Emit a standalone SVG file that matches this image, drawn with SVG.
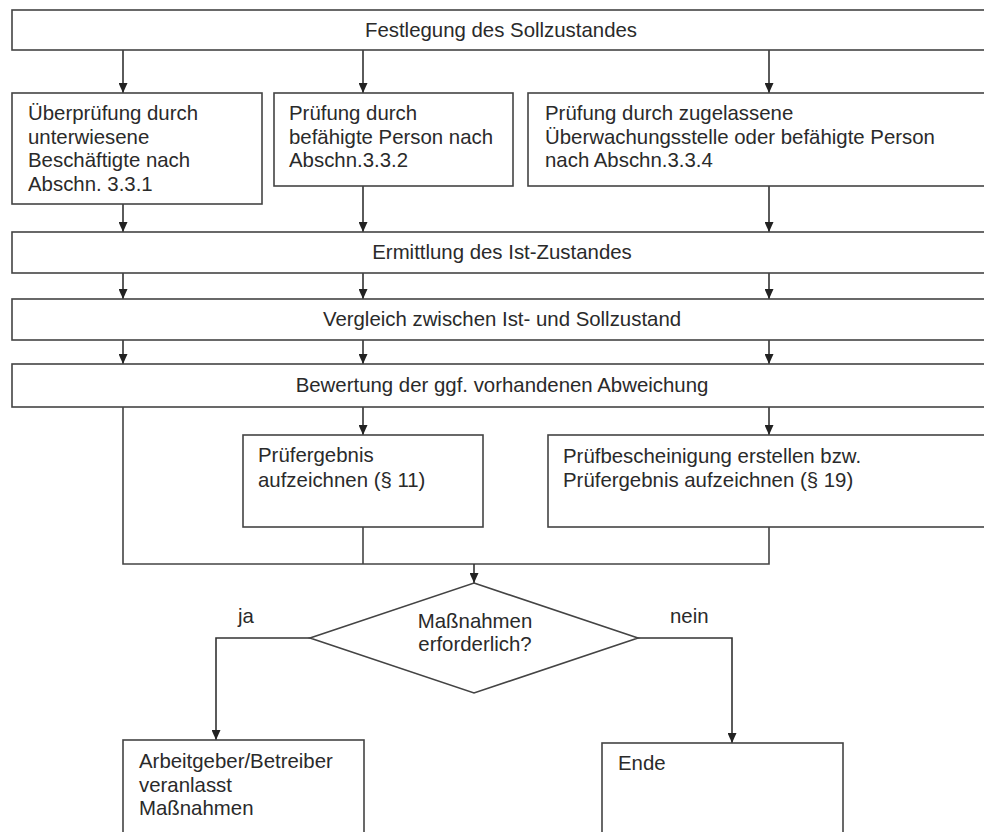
<svg xmlns="http://www.w3.org/2000/svg" width="984" height="832" viewBox="0 0 984 832">
<defs>
<marker id="arr" markerUnits="userSpaceOnUse" markerWidth="10" markerHeight="9" refX="10" refY="4.5" orient="auto">
<path d="M0,0 L10,4.5 L0,9 z" fill="#222"/>
</marker>
<style>
.box{fill:#fff;stroke:#444;stroke-width:1.6}
.t{font-family:"Liberation Sans",Arial,sans-serif;font-size:20.4px;fill:#2a2a2a}
.c{text-anchor:middle}
.ln{fill:none;stroke:#444;stroke-width:1.6}
.ar{fill:none;stroke:#333;stroke-width:1.6;marker-end:url(#arr)}
</style>
</defs>
<rect width="984" height="832" fill="#fff"/>
<g id="connectors">
<line class="ar" x1="123" y1="50" x2="123" y2="93"/>
<line class="ar" x1="363" y1="50" x2="363" y2="93"/>
<line class="ar" x1="769" y1="50" x2="769" y2="93"/>
<line class="ar" x1="123" y1="204" x2="123" y2="232"/>
<line class="ar" x1="363" y1="186" x2="363" y2="232"/>
<line class="ar" x1="769" y1="186" x2="769" y2="232"/>
<line class="ar" x1="123" y1="273" x2="123" y2="299"/>
<line class="ar" x1="363" y1="273" x2="363" y2="299"/>
<line class="ar" x1="769" y1="273" x2="769" y2="299"/>
<line class="ar" x1="123" y1="340" x2="123" y2="364"/>
<line class="ar" x1="363" y1="340" x2="363" y2="364"/>
<line class="ar" x1="769" y1="340" x2="769" y2="364"/>
<line class="ar" x1="363" y1="407" x2="363" y2="435"/>
<line class="ar" x1="769" y1="407" x2="769" y2="435"/>
<polyline class="ln" points="123,407 123,564 769,564 769,527"/>
<line class="ln" x1="363" y1="527" x2="363" y2="564"/>
<line class="ar" x1="474" y1="564" x2="474" y2="583"/>
<polyline class="ar" points="310,638 216,638 216,740"/>
<polyline class="ar" points="638,638 732,638 732,743"/>
<text class="t" x="238" y="623">ja</text>
<text class="t" x="670" y="623">nein</text>
</g>
<g id="n-soll">
<rect class="box" x="12" y="10" width="980" height="40"/>
<text class="t c" x="501" y="37">Festlegung des Sollzustandes</text>
</g>
<g id="n-331">
<rect class="box" x="12" y="93" width="250" height="111"/>
<text class="t" x="28" y="120">Überprüfung durch</text>
<text class="t" x="28" y="144">unterwiesene</text>
<text class="t" x="28" y="167">Beschäftigte nach</text>
<text class="t" x="28" y="191">Abschn. 3.3.1</text>
</g>
<g id="n-332">
<rect class="box" x="274" y="93" width="239" height="93"/>
<text class="t" x="289" y="120">Prüfung durch</text>
<text class="t" x="289" y="144">befähigte Person nach</text>
<text class="t" x="289" y="167">Abschn.3.3.2</text>
</g>
<g id="n-334">
<rect class="box" x="528" y="93" width="464" height="93"/>
<text class="t" x="545" y="120">Prüfung durch zugelassene</text>
<text class="t" x="545" y="144">Überwachungsstelle oder befähigte Person</text>
<text class="t" x="545" y="167">nach Abschn.3.3.4</text>
</g>
<g id="n-ist">
<rect class="box" x="12" y="232" width="980" height="41"/>
<text class="t c" x="502" y="259">Ermittlung des Ist-Zustandes</text>
</g>
<g id="n-vergleich">
<rect class="box" x="12" y="299" width="980" height="41"/>
<text class="t c" x="502" y="326">Vergleich zwischen Ist- und Sollzustand</text>
</g>
<g id="n-bewertung">
<rect class="box" x="12" y="364" width="980" height="43"/>
<text class="t c" x="502" y="392">Bewertung der ggf. vorhandenen Abweichung</text>
</g>
<g id="n-p11">
<rect class="box" x="243" y="435" width="240" height="92"/>
<text class="t" x="258" y="462">Prüfergebnis</text>
<text class="t" x="258" y="487">aufzeichnen (§ 11)</text>
</g>
<g id="n-p19">
<rect class="box" x="548" y="435" width="444" height="92"/>
<text class="t" x="563" y="463">Prüfbescheinigung erstellen bzw.</text>
<text class="t" x="563" y="487">Prüfergebnis aufzeichnen (§ 19)</text>
</g>
<g id="n-decision">
<polygon class="box" points="474,583 638,638 474,693 310,638"/>
<text class="t c" x="475" y="628">Maßnahmen</text>
<text class="t c" x="475" y="651">erforderlich?</text>
</g>
<g id="n-massnahmen">
<rect class="box" x="123" y="740" width="241" height="100"/>
<text class="t" x="139" y="768">Arbeitgeber/Betreiber</text>
<text class="t" x="139" y="792">veranlasst</text>
<text class="t" x="139" y="815">Maßnahmen</text>
</g>
<g id="n-ende">
<rect class="box" x="602" y="743" width="241" height="100"/>
<text class="t" x="618" y="770">Ende</text>
</g>
</svg>
